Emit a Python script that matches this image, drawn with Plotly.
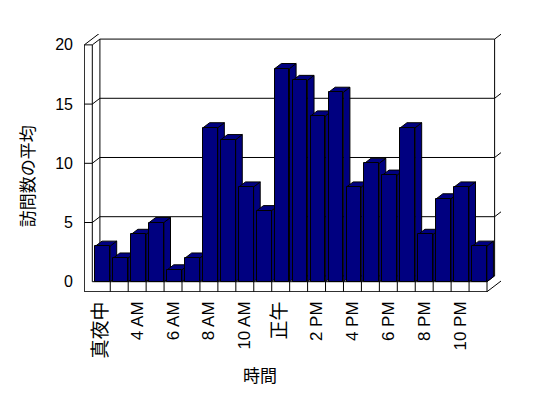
import plotly.graph_objects as go

# ---------------- data ----------------
HOURS = ["真夜中", "2 AM", "4 AM", "5 AM", "6 AM", "7 AM", "8 AM", "9 AM", "10 AM", "11 AM",
         "正午", "1 PM", "2 PM", "3 PM", "4 PM", "5 PM", "6 PM", "7 PM", "8 PM", "9 PM",
         "10 PM", "11 PM"]
VISITS = [3, 2, 4, 5, 1, 2, 13, 12, 8, 6, 18, 17, 14, 16, 8, 10, 9, 13, 4, 7, 8, 3]
Y_TICKS = [0, 5, 10, 15, 20]
X_TITLE = "時間"
Y_TITLE = "訪問数の平均"

# ---------------- style / geometry ----------------
NAVY = "#000080"
CJK = "Noto Sans CJK JP"
LAT = "Liberation Sans, Noto Sans CJK JP"
N = len(HOURS)
YMAX = Y_TICKS[-1]
DX, DY = 0.424, 0.49      # oblique offset per unit of depth (data units)
LW = 0.446                # left wall thickness (x units)
FT = 0.845                # floor thickness (y units)
BAR_OFF, BAR_W, BAR_D = -0.33, 0.82, 0.87
XL, XR = -0.5, N - 0.5

def P(X, Y, Z):
    return (X + Z * DX, Y + Z * DY)

def path(pts, close=False):
    s = "M " + " L ".join(f"{x:.4f},{y:.4f}" for x, y in pts)
    return s + (" Z" if close else "")

shapes = []
def seg(*pts):
    shapes.append(dict(type="path", xref="x", yref="y", layer="below",
                       path=path([P(*p) for p in pts]),
                       line=dict(color="black", width=1)))

def poly(pts, fill):
    shapes.append(dict(type="path", xref="x", yref="y", layer="below",
                       path=path([P(*p) for p in pts], close=True),
                       fillcolor=fill, line=dict(color="black", width=1)))

# back wall / grid
for v in Y_TICKS[1:-1]:
    seg((XL - LW, v, 0), (XL, v, 0), (XL, v, 1), (XR, v, 1), (XR, v, 2))
seg((XL, 0, 1), (XL, YMAX, 1))
seg((XR, 0, 1), (XR, YMAX, 1))
seg((XL, YMAX, 1), (XR, YMAX, 1))
seg((XL - LW, YMAX, 2), (XR, YMAX, 2))
seg((XR, YMAX, 1), (XR, YMAX, 2))
seg((XR, YMAX, 2), (XR, -FT, 2))
# left wall
seg((XL - LW, -FT, 0), (XL - LW, YMAX, 0), (XL, YMAX, 0), (XL, 0, 0))
seg((XL - LW, YMAX, 0), (XL - LW, YMAX, 2))
seg((XL, YMAX, 0), (XL, YMAX, 1))
# floor
seg((XL - LW, -FT, 0), (XR, -FT, 0), (XR, 0, 0), (XL, 0, 0))
seg((XL, 0, 1), (XR, 0, 1))
seg((XR, -FT, 0), (XR, -FT, 2))
seg((XR, 0, 0), (XR, 0, 1))
for k in range(1, N):
    seg((XL + k, -FT, 0), (XL + k, 0, 0))

# bar depth faces (top + side), left to right
for i, h in enumerate(VISITS):
    L, R = i + BAR_OFF, i + BAR_OFF + BAR_W
    poly([(R, 0, 0), (R, h, 0), (R, h, BAR_D), (R, 0, BAR_D)], NAVY)
    poly([(L, h, 0), (R, h, 0), (R, h, BAR_D), (L, h, BAR_D)], NAVY)

def tick_text(s):
    if any(ord(c) > 127 for c in s):
        return f'<span style="font-family:{CJK};font-size:19px">{s}</span>'
    return s

fig = go.Figure()
fig.add_trace(go.Bar(
    x=list(range(N)), y=VISITS, width=BAR_W, offset=BAR_OFF,
    marker=dict(color=NAVY, line=dict(color="black", width=1)),
    hovertext=HOURS, showlegend=False,
))

fig.update_layout(
    width=548, height=398,
    margin=dict(l=84, r=47, t=34, b=106),
    paper_bgcolor="white", plot_bgcolor="white",
    font=dict(family=LAT, color="black", size=16),
    showlegend=False, bargap=0,
    shapes=shapes,
    xaxis=dict(range=[-0.963, 22.28], showgrid=False, zeroline=False, showline=False,
               tickmode="array", tickvals=list(range(0, N, 2)),
               ticktext=[tick_text(s) for s in HOURS[::2]],
               tickangle=-90, ticks="", ticklabelstandoff=5,
               tickfont=dict(family=LAT, size=17, color="black")),
    yaxis=dict(range=[-0.87, 20.92], showgrid=False, zeroline=False, showline=False,
               tickmode="array", tickvals=Y_TICKS, ticks="", ticklabelstandoff=10,
               tickfont=dict(family=LAT, size=16, color="black")),
    annotations=[
        dict(text=Y_TITLE, xref="paper", yref="paper", x=-0.136, y=0.45,
             xanchor="center", yanchor="middle",
             textangle=-90, showarrow=False, font=dict(family=CJK, size=17, color="black")),
        dict(text=X_TITLE, xref="paper", yref="paper", x=0.422, y=-0.32,
             xanchor="center", yanchor="middle",
             showarrow=False, font=dict(family=CJK, size=17, color="black")),
    ],
)

fig.write_html("out.html")
